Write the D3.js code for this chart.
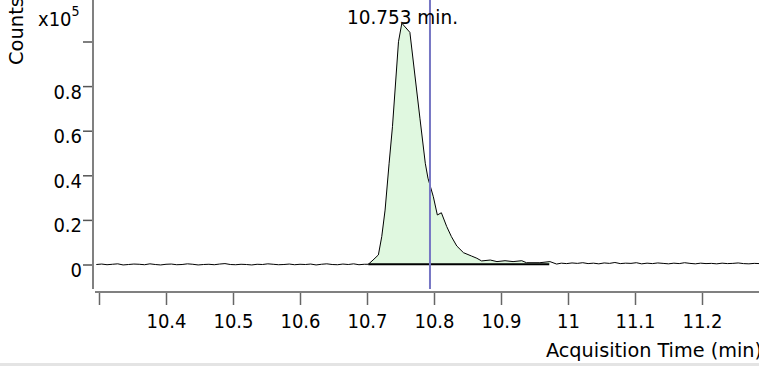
<!DOCTYPE html>
<html><head><meta charset="utf-8">
<script src="https://cdn.jsdelivr.net/npm/d3@7/dist/d3.min.js"></script>
<style>html,body{margin:0;padding:0;background:#fff;}svg{display:block;}</style>
</head><body>
<script>
// ---- data (counts in units of 10^5) ----
const leftTimes = [10.296,10.304,10.312,10.320,10.328,10.336,10.344,10.352,10.360,10.368,10.376,10.384,10.392,10.400,10.408,10.416,10.424,10.432,10.440,10.448,10.456,10.464,10.472,10.480,10.488,10.496,10.504,10.512,10.520,10.528,10.536,10.544,10.552,10.560,10.568,10.576,10.584,10.592,10.600,10.608,10.616,10.624,10.632,10.640,10.648,10.656,10.664,10.672,10.680,10.688,10.696];
const leftCounts = [0.000,0.002,-0.001,0.001,0.003,-0.002,0.000,0.002,0.001,-0.001,
  0.003,0.000,-0.002,0.001,0.002,-0.001,0.000,0.003,0.001,-0.002,
  0.000,0.001,-0.001,0.002,0.004,0.000,-0.001,0.001,0.000,-0.002,
  0.001,0.000,0.003,0.001,-0.001,0.000,0.002,-0.001,0.001,0.000,
  0.002,-0.002,0.001,0.003,0.000,-0.001,0.002,0.000,0.003,-0.001,0.001];
const peakTimes = [10.702,10.709,10.717,10.722,10.727,10.733,10.738,10.747,10.752,10.764,10.779,10.787,10.791,10.799,10.805,10.811,10.819,10.826,10.834,10.844,10.856,10.864,10.871,10.884,10.894,10.906,10.918,10.931,10.938,10.958,10.973,10.983];
const peakCounts = [0.001,0.020,0.043,0.125,0.244,0.454,0.618,0.999,1.082,1.041,0.656,0.454,0.387,0.304,0.222,0.232,0.170,0.125,0.083,0.053,0.038,0.028,0.016,0.020,0.013,0.017,0.013,0.017,0.008,0.008,0.013,0.002];
const rightTimes = [10.990,10.998,11.006,11.014,11.022,11.030,11.038,11.046,11.054,11.062,11.070,11.078,11.086,11.094,11.102,11.110,11.118,11.126,11.134,11.142,11.150,11.158,11.166,11.174,11.182,11.190,11.198,11.206,11.214,11.222,11.230,11.238,11.246,11.254,11.262,11.270,11.278,11.286];
const rightCounts = [0.006,0.004,0.007,0.005,0.008,0.004,0.006,0.003,0.007,0.005,
  0.009,0.004,0.006,0.005,0.008,0.003,0.006,0.004,0.007,0.005,
  0.003,0.006,0.004,0.008,0.005,0.003,0.006,0.004,0.005,0.003,
  0.006,0.004,0.005,0.007,0.004,0.003,0.005,0.004];

const xTicks = [10.3,10.4,10.5,10.6,10.7,10.8,10.9,11,11.1,11.2];
const xTickLabels = ["","10.4","10.5","10.6","10.7","10.8","10.9","11","11.1","11.2"];
const yTicks = [0,0.2,0.4,0.6,0.8,1.0];
const yTickLabels = ["0","0.2","0.4","0.6","0.8",""];

const peakApexTime = 10.753;
const peakLabel = "10.753 min.";
const cursorTime = 10.794;
const baselineStart = 10.702, baselineEnd = 10.972, baselineLevel = 0.001;
const xTitle = "Acquisition Time (min)";
const yTitle = "Counts";

// ---- layout ----
const W = 759, H = 366;
const FONT = "'DejaVu Sans Condensed', 'DejaVu Sans', sans-serif";
const x = d3.scaleLinear().domain([10.4, 11.2]).range([166, 702]);
const y = d3.scaleLinear().domain([0, 1]).range([264.5, 41.5]);

const svg = d3.select("body").append("svg").attr("width", W).attr("height", H)
  .style("font-family", FONT);

function zip(ts, cs){ const n=Math.min(ts.length,cs.length); const o=[]; for(let i=0;i<n;i++) o.push({t:ts[i], v:cs[i]}); return o; }
const trace = zip(leftTimes,leftCounts).concat(zip(peakTimes,peakCounts), zip(rightTimes,rightCounts));
const peak = zip(peakTimes,peakCounts).filter(d => d.t >= baselineStart && d.t <= baselineEnd + 0.002);

// bottom border
svg.append("rect").attr("x",0).attr("y",363).attr("width",W).attr("height",3).attr("fill","#e4e4e4");

// filled peak area
svg.append("path").datum(peak)
  .attr("d", d3.area().x(d=>x(d.t)).y0(y(baselineLevel)).y1(d=>y(d.v)))
  .attr("fill","#e0f8e0").attr("stroke","none");

// trace
svg.append("path").datum(trace)
  .attr("d", d3.line().x(d=>x(d.t)).y(d=>y(d.v)))
  .attr("fill","none").attr("stroke","#000").attr("stroke-width",1);

// integration baseline
svg.append("line").attr("x1",x(baselineStart)).attr("x2",x(baselineEnd))
  .attr("y1",y(baselineLevel)).attr("y2",y(baselineLevel))
  .attr("stroke","#000").attr("stroke-width",2);

// cursor line
svg.append("line").attr("x1",x(cursorTime)).attr("x2",x(cursorTime))
  .attr("y1",0).attr("y2",289).attr("stroke","#7676c4").attr("stroke-width",2);

// peak label
svg.append("text").attr("x",x(peakApexTime)).attr("y",24).attr("text-anchor","middle")
  .attr("font-size",20).attr("fill","#000").attr("textLength",111).attr("lengthAdjust","spacingAndGlyphs")
  .text(peakLabel);

// Y axis
const yAxis = svg.append("g").attr("transform","translate(93,0)")
  .call(d3.axisLeft(y).tickValues(yTicks).tickSize(10).tickPadding(0)
    .tickFormat((d,i)=>yTickLabels[i]));
yAxis.select(".domain").remove();
yAxis.append("line").attr("x1",0).attr("x2",0).attr("y1",0).attr("y2",289)
  .attr("stroke","#808080").attr("stroke-width",2);
yAxis.selectAll(".tick line").attr("stroke","#555").attr("stroke-width",1.5);
yAxis.selectAll(".tick text").attr("font-family",FONT).attr("font-size",20).attr("fill","#000")
  .attr("x",-11).attr("dy",null).attr("y",12);

// X axis
const xAxis = svg.append("g").attr("transform","translate(0,292)")
  .call(d3.axisBottom(x).tickValues(xTicks).tickSize(13).tickPadding(0)
    .tickFormat((d,i)=>xTickLabels[i]));
xAxis.select(".domain").remove();
xAxis.append("line").attr("x1",95).attr("x2",W).attr("y1",0).attr("y2",0)
  .attr("stroke","#808080").attr("stroke-width",2);
xAxis.selectAll(".tick line").attr("stroke","#666").attr("stroke-width",1.5);
xAxis.selectAll(".tick text").attr("font-family",FONT).attr("font-size",20).attr("fill","#000")
  .attr("dy",null).attr("y",35.5);

// axis titles
svg.append("text").attr("x",546).attr("y",357).attr("font-size",20).attr("fill","#000")
  .attr("textLength",216).attr("lengthAdjust","spacingAndGlyphs").text(xTitle);
svg.append("text").attr("transform","translate(23,65) rotate(-90)").attr("font-size",20)
  .attr("fill","#000").attr("textLength",68).attr("lengthAdjust","spacingAndGlyphs").text(yTitle);
const mult = svg.append("text").attr("x",38).attr("y",26).attr("font-size",20).attr("fill","#000");
mult.append("tspan").text("x10");
mult.append("tspan").attr("font-size",14).attr("dy",-10).text("5");
</script>
</body></html>
